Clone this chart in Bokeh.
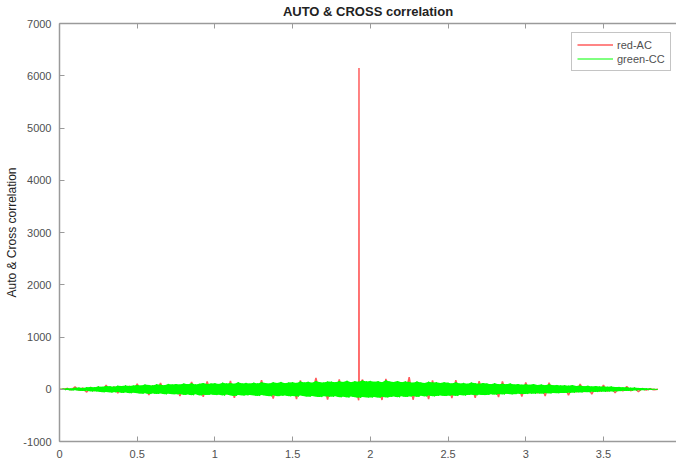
from bokeh.plotting import figure
from bokeh.models import (Range1d, LinearAxis, SingleIntervalTicker, CustomJSTickFormatter,
                          Legend, LegendItem)
from bokeh.embed import file_html
from bokeh.resources import INLINE

# ---------------- data ----------------
title_text = "AUTO & CROSS correlation"
y_label = "Auto & Cross correlation"
series_names = ["red-AC", "green-CC"]

# cross-correlation (green): upper / lower excursions, lag step 0.025
green_step = 0.025
green_hi = [0, 10, 18, 16, 28, 32, 26, 40, 45, 38,
            55, 46, 62, 57, 50, 68, 60, 74, 64, 70,
            80, 70, 90, 82, 74, 96, 86, 78, 102, 92,
            100, 90, 108, 96, 114, 92, 104, 118, 100, 110,
            115, 102, 126, 110, 120, 104, 132, 112, 122, 108,
            125, 112, 134, 118, 108, 132, 120, 140, 114, 128,
            135, 122, 150, 130, 142, 124, 156, 136, 128, 146,
            145, 132, 155, 140, 162, 136, 152, 144, 168, 150,
            160, 142, 154, 136, 170, 146, 138, 158, 134, 150,
            140, 126, 148, 130, 120, 144, 128, 136, 118, 132,
            125, 112, 132, 108, 122, 104, 128, 114, 106, 118,
            110, 98, 116, 94, 106, 96, 110, 92, 100, 88,
            95, 84, 100, 80, 90, 78, 94, 76, 82, 74,
            76, 68, 80, 62, 70, 58, 66, 54, 60, 52,
            55, 48, 52, 42, 45, 36, 40, 30, 32, 26,
            24, 18, 14, 7, 0]
green_lo = [0, -12, -15, -22, -19, -30, -35, -28, -42, -38,
            -50, -58, -52, -64, -59, -54, -70, -62, -76, -66,
            -76, -86, -78, -92, -82, -90, -80, -98, -86, -94,
            -98, -90, -108, -102, -114, -98, -118, -106, -110, -100,
            -112, -106, -122, -102, -118, -128, -108, -120, -116, -110,
            -120, -130, -112, -126, -136, -116, -132, -124, -118, -134,
            -128, -140, -122, -136, -144, -130, -142, -150, -132, -140,
            -144, -136, -154, -142, -160, -140, -152, -164, -146, -156,
            -158, -148, -164, -142, -156, -146, -140, -154, -136, -148,
            -140, -130, -146, -126, -138, -122, -136, -128, -118, -130,
            -124, -114, -130, -108, -120, -110, -104, -116, -106, -112,
            -108, -96, -104, -92, -100, -88, -98, -94, -86, -92,
            -92, -82, -88, -78, -84, -74, -80, -72, -76, -70,
            -72, -66, -68, -58, -62, -54, -58, -50, -54, -45,
            -50, -43, -45, -38, -36, -31, -33, -27, -25, -20,
            -20, -15, -11, -6, 0]

# auto-correlation (red): upper / lower excursions, lag step 0.05
red_step = 0.05
red_hi = [0, 15, 45, 25, 35, 40, 80, 50, 55, 60,
          105, 65, 70, 120, 75, 80, 85, 140, 80, 150,
          90, 95, 160, 90, 95, 100, 175, 95, 100, 105,
          110, 170, 105, 215, 110, 115, 190, 120, 115, 185,
          120, 115, 200, 110, 125, 230, 105, 100, 170, 95,
          90, 175, 85, 90, 155, 80, 85, 150, 75, 80,
          130, 70, 75, 125, 60, 65, 55, 100, 50, 45,
          80, 40, 35, 55, 20, 15, 10, 0]
red_lo = [0, -10, -20, -55, -30, -35, -40, -75, -45, -50,
          -55, -110, -60, -65, -70, -130, -75, -80, -145, -85,
          -90, -95, -165, -90, -95, -100, -105, -180, -100, -105,
          -190, -110, -105, -115, -200, -110, -115, -120, -210, -115,
          -120, -205, -110, -115, -105, -200, -100, -190, -95, -100,
          -170, -90, -85, -165, -80, -85, -150, -80, -75, -140,
          -70, -75, -130, -65, -60, -115, -55, -50, -95, -45,
          -40, -70, -35, -30, -45, -15, -10, 0]
# zero-lag peak of the auto-correlation and its immediate neighbours
peak_lags = [1.926, 1.927, 1.928]
peak_values = [120, 6150, 90]

x_ticks_step = 0.5
y_ticks_step = 1000


def interleave(hi, lo, step):
    xs, ys = [], []
    for i in range(len(hi)):
        xs.append(i * step)
        ys.append(hi[i])
        if i < len(hi) - 1:
            xs.append((i + 0.5) * step)
            ys.append(lo[i])
    return xs, ys


gx, gy = interleave(green_hi, green_lo, green_step)
g_lags = [i * green_step for i in range(len(green_hi))]
rx, ry = interleave(red_hi, red_lo, red_step)
pts = sorted(zip(rx + peak_lags, ry + peak_values))
rx = [p[0] for p in pts]
ry = [p[1] for p in pts]

# ---------------- figure ----------------
FONT = "Liberation Sans"
AXIS_GREY = "#9a9a9a"
TEXT_GREY = "#505050"
RED = "#ff4040"
GREEN = "#00ff00"

p = figure(width=676, height=463, output_backend="svg", toolbar_location=None,
           x_range=Range1d(0, 3.97), y_range=Range1d(-1000, 7000),
           min_border_left=59, min_border_right=0, min_border_top=23, min_border_bottom=22,
           background_fill_color="white", border_fill_color="white")
p.outline_line_color = None
p.grid.visible = False

p.title.text = title_text
p.title.align = "center"
p.title.text_font = FONT
p.title.text_font_size = "13px"
p.title.text_font_style = "bold"
p.title.text_color = "#222222"
p.title.standoff = 2
p.title.offset = 0

fmt = CustomJSTickFormatter(code="return String(Math.round(tick*1000)/1000);")
blank_fmt = CustomJSTickFormatter(code="return '';")

for ax in p.xaxis:
    ax.ticker = SingleIntervalTicker(interval=x_ticks_step)
for ax in p.yaxis:
    ax.ticker = SingleIntervalTicker(interval=y_ticks_step)
    ax.axis_label = y_label
    ax.axis_label_text_font = FONT
    ax.axis_label_text_font_size = "12px"
    ax.axis_label_text_font_style = "normal"
    ax.axis_label_text_color = "#222222"
    ax.axis_label_standoff = 1

for ax in p.xaxis + p.yaxis:
    ax.formatter = fmt
    ax.major_tick_in = 5
    ax.major_tick_out = 0
    ax.minor_tick_line_color = None
    ax.axis_line_color = AXIS_GREY
    ax.axis_line_width = 1.5
    ax.major_tick_line_color = AXIS_GREY
    ax.major_label_text_font = FONT
    ax.major_label_text_font_size = "11px"
    ax.major_label_text_color = TEXT_GREY
    ax.major_label_standoff = 4

top = LinearAxis(ticker=SingleIntervalTicker(interval=x_ticks_step), formatter=blank_fmt,
                 major_tick_in=5, major_tick_out=0, minor_tick_line_color=None,
                 axis_line_color=AXIS_GREY, axis_line_width=1.5,
                 major_tick_line_color=AXIS_GREY, major_label_standoff=0)
p.add_layout(top, "above")

# auto-correlation (drawn first, mostly hidden under the cross-correlation)
r_red = p.line(rx, ry, line_color=RED, line_width=1.5, line_alpha=0.85)
# cross-correlation band
p.varea(x=g_lags, y1=green_lo, y2=green_hi, fill_color=GREEN)
r_green = p.line(gx, gy, line_color=GREEN, line_width=1)

legend = Legend(items=[LegendItem(label=series_names[0], renderers=[r_red]),
                       LegendItem(label=series_names[1], renderers=[r_green])],
                location=(512, 370), orientation="vertical",
                label_text_font=FONT, label_text_font_size="11px", label_text_color=TEXT_GREY,
                glyph_width=36, glyph_height=13, label_height=13, label_standoff=4,
                spacing=1, padding=5, margin=0,
                border_line_color="#8a8a8a", border_line_width=1,
                background_fill_color="white", background_fill_alpha=1)
p.add_layout(legend, "center")

open("out.html", "w").write(file_html(p, INLINE))
